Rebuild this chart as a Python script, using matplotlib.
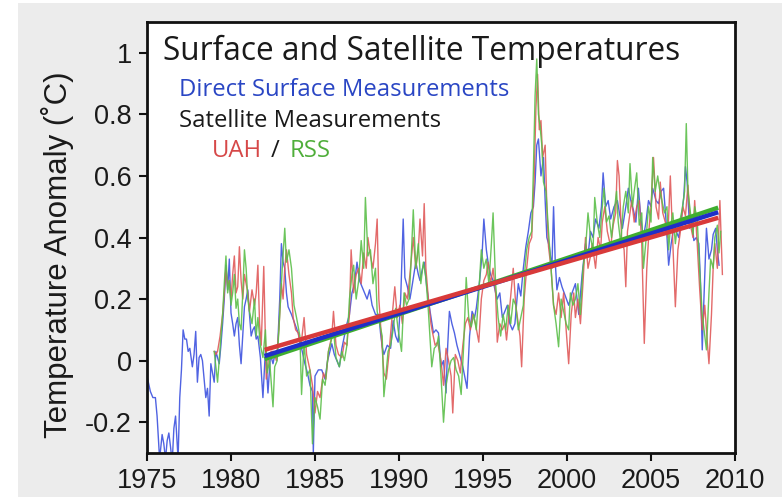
import matplotlib
matplotlib.use("Agg")
import matplotlib.pyplot as plt
from matplotlib.patches import Rectangle
import numpy as np

# ---------------- data ----------------
surface_years = [
 1975.00,1975.08,1975.2,1975.35,1975.5,1975.6,1975.75,1975.9,1976.0,1976.1,1976.2,1976.3,1976.4,1976.5,1976.6,1976.7,1976.85,1976.95,
 1977.05,1977.15,1977.25,1977.35,1977.45,1977.55,1977.7,1977.8,1977.9,1978.0,1978.1,1978.2,1978.3,1978.4,1978.5,1978.6,1978.7,1978.8,1978.9,
 1979.0,1979.1,1979.2,1979.3,1979.4,1979.5,1979.6,1979.7,1979.8,1979.9,1980.0,1980.1,1980.2,1980.3,1980.4,1980.5,1980.6,1980.7,1980.8,1980.9,
 1981.0,1981.1,1981.2,1981.3,1981.4,1981.5,1981.6,1981.75,1981.9,1982.05,1982.2,1982.35,1982.5,1982.65,1982.75,1982.9,
 1983.0,1983.1,1983.2,1983.3,1983.4,1983.6,1983.8,1984.0,1984.2,1984.4,1984.55,1984.7,1984.85,1984.9,1985.0,1985.2,1985.4,1985.6,1985.75,
 1986.0,1986.15,1986.3,1986.45,1986.6,1986.75,1986.9,1987.05,1987.2,1987.35,1987.5,1987.65,1987.8,1987.95,1988.1,1988.25,1988.4,1988.6,1988.8,1988.9,
 1989.0,1989.1,1989.3,1989.5,1989.65,1989.8,1989.95,1990.1,1990.25,1990.35,1990.5,1990.65,1990.8,1991.0,1991.15,1991.25,1991.4,1991.5,1991.65,1991.85,
 1992.05,1992.2,1992.35,1992.5,1992.65,1992.8,1992.9,1993.0,1993.15,1993.3,1993.45,1993.6,1993.8,1994.05,1994.2,1994.35,1994.5,1994.6,1994.8,1994.95,
 1995.05,1995.2,1995.3,1995.45,1995.6,1995.75,1995.85,1996.0,1996.15,1996.3,1996.45,1996.6,1996.75,1996.9,1997.1,1997.25,1997.4,1997.55,1997.7,1997.85,
 1998.0,1998.1,1998.2,1998.3,1998.45,1998.6,1998.7,1998.8,1998.95,1999.1,1999.2,1999.3,1999.4,1999.55,1999.7,1999.9,2000.1,2000.3,2000.5,2000.7,2000.9,
 2001.1,2001.25,2001.4,2001.55,2001.7,2001.9,2002.05,2002.15,2002.3,2002.45,2002.6,2002.8,2003.0,2003.15,2003.3,2003.5,2003.65,2003.8,2003.95,
 2004.1,2004.25,2004.4,2004.55,2004.7,2004.85,2005.0,2005.1,2005.3,2005.45,2005.6,2005.75,2005.9,2006.05,2006.2,2006.35,2006.5,2006.65,2006.8,2006.95,
 2007.05,2007.15,2007.3,2007.45,2007.55,2007.7,2007.85,2007.95,2008.05,2008.15,2008.3,2008.45,2008.6,2008.7,2008.85,2008.95,2009.05]
surface_values = [
 -0.05,-0.07,-0.10,-0.12,-0.12,-0.18,-0.32,-0.24,-0.27,-0.32,-0.26,-0.235,-0.28,-0.33,-0.22,-0.18,-0.32,-0.12,
 -0.03,0.10,0.07,0.07,0.03,0.04,-0.02,0.02,0.095,-0.07,0.01,0.02,0.00,-0.06,-0.12,-0.09,-0.18,-0.01,-0.04,
 -0.07,0.03,0.01,-0.01,0.05,0.12,0.20,0.31,0.23,0.33,0.155,0.12,0.08,0.12,0.14,0.05,-0.01,0.08,0.175,0.20,
 0.23,0.15,0.08,0.10,0.11,0.07,0.08,0.01,-0.12,0.035,-0.105,0.02,-0.01,0.03,0.01,0.20,
 0.38,0.32,0.30,0.22,0.175,0.15,0.12,0.09,0.04,-0.01,-0.04,-0.08,-0.10,-0.30,-0.05,-0.03,-0.03,-0.06,0.00,
 0.055,0.02,0.00,-0.02,0.04,0.08,0.12,0.15,0.22,0.25,0.32,0.26,0.24,0.22,0.20,0.23,0.18,0.15,0.15,0.09,
 0.045,0.02,0.05,0.04,0.13,0.08,0.06,0.20,0.46,0.27,0.24,0.20,0.25,0.32,0.28,0.26,0.30,0.32,0.24,0.16,
 0.09,0.10,0.09,-0.02,0.00,-0.105,0.05,0.16,0.12,0.09,0.05,0.02,-0.02,-0.09,0.08,0.16,0.14,0.17,0.26,0.35,
 0.46,0.36,0.32,0.28,0.26,0.22,0.20,0.22,0.14,0.16,0.18,0.12,0.10,0.12,0.25,0.21,0.30,0.37,0.42,0.48,
 0.50,0.58,0.70,0.72,0.60,0.66,0.52,0.40,0.37,0.30,0.50,0.32,0.23,0.27,0.24,0.21,0.18,0.22,0.25,0.15,0.28,
 0.38,0.34,0.42,0.40,0.46,0.43,0.50,0.61,0.50,0.52,0.46,0.50,0.52,0.47,0.43,0.50,0.56,0.52,0.49,
 0.45,0.56,0.46,0.40,0.45,0.52,0.50,0.56,0.52,0.51,0.55,0.56,0.45,0.31,0.38,0.43,0.42,0.40,0.46,0.53,
 0.63,0.58,0.43,0.45,0.39,0.40,0.38,0.25,0.035,0.20,0.43,0.33,0.36,0.41,0.43,0.36,0.31]

uah_years = [
 1979.0,1979.1,1979.2,1979.35,1979.5,1979.6,1979.7,1979.8,1979.9,1980.0,1980.1,1980.2,1980.3,1980.4,1980.5,1980.6,1980.7,1980.8,1980.9,
 1981.0,1981.1,1981.25,1981.4,1981.5,1981.6,1981.7,1981.8,1981.95,1982.1,1982.25,1982.4,1982.55,1982.7,1982.85,
 1983.0,1983.1,1983.2,1983.3,1983.45,1983.6,1983.7,1983.85,1984.0,1984.15,1984.35,1984.5,1984.7,1984.85,1985.0,1985.15,1985.3,1985.5,1985.65,1985.8,
 1986.0,1986.1,1986.25,1986.4,1986.6,1986.75,1986.9,1987.05,1987.15,1987.3,1987.45,1987.6,1987.75,1987.9,1988.05,1988.15,1988.3,1988.45,1988.6,1988.7,1988.8,1988.95,
 1989.1,1989.25,1989.4,1989.55,1989.75,1989.9,1990.05,1990.2,1990.35,1990.5,1990.65,1990.85,1991.0,1991.15,1991.25,1991.4,1991.5,1991.6,1991.75,1991.9,
 1992.0,1992.15,1992.3,1992.5,1992.65,1992.8,1992.95,1993.1,1993.2,1993.35,1993.5,1993.65,1993.8,1993.95,1994.1,1994.25,1994.4,1994.55,1994.75,1994.9,
 1995.05,1995.2,1995.3,1995.45,1995.6,1995.75,1995.85,1996.0,1996.15,1996.3,1996.4,1996.55,1996.7,1996.8,1996.95,1997.1,1997.2,1997.3,1997.45,1997.6,1997.75,1997.9,
 1998.05,1998.15,1998.25,1998.35,1998.45,1998.55,1998.7,1998.8,1998.9,1999.05,1999.2,1999.35,1999.5,1999.65,1999.8,1999.95,
 2000.1,2000.25,2000.4,2000.5,2000.65,2000.8,2000.95,2001.1,2001.25,2001.4,2001.5,2001.7,2001.85,2002.0,2002.1,2002.25,2002.4,2002.6,2002.75,2002.9,
 2003.0,2003.1,2003.25,2003.4,2003.5,2003.6,2003.75,2003.85,2004.0,2004.15,2004.3,2004.45,2004.6,2004.75,2004.9,
 2005.0,2005.15,2005.3,2005.45,2005.55,2005.7,2005.85,2006.0,2006.15,2006.3,2006.45,2006.6,2006.75,2006.9,
 2007.05,2007.2,2007.35,2007.5,2007.6,2007.75,2007.9,2008.05,2008.2,2008.35,2008.45,2008.6,2008.7,2008.8,2008.95,2009.1,2009.25]
uah_values = [
 0.03,0.02,0.03,0.08,0.15,0.22,0.30,0.24,0.26,0.20,0.28,0.34,0.22,0.24,0.37,0.26,0.20,0.28,0.25,
 0.22,0.16,0.23,0.18,0.22,0.31,0.12,0.05,0.306,-0.06,0.02,0.03,0.03,0.00,0.10,
 0.25,0.20,0.30,0.36,0.28,0.22,0.14,0.10,0.09,0.04,0.14,0.02,-0.03,-0.08,-0.17,-0.10,-0.12,-0.04,-0.06,0.03,
 0.08,0.16,0.05,0.02,0.01,0.06,0.05,0.15,0.36,0.22,0.28,0.30,0.25,0.35,0.30,0.40,0.34,0.30,0.38,0.46,0.20,0.08,
 -0.04,-0.06,0.02,0.12,0.24,0.14,0.18,0.12,0.22,0.20,0.28,0.40,0.30,0.36,0.46,0.34,0.51,0.30,0.20,0.12,
 0.09,0.05,0.06,0.00,-0.08,0.04,0.00,-0.05,-0.17,0.02,0.00,-0.04,0.05,0.12,0.14,0.10,0.15,0.12,0.06,0.20,
 0.26,0.28,0.32,0.25,0.30,0.22,0.06,0.12,0.10,0.12,0.067,0.15,0.24,0.30,0.18,0.12,0.08,-0.02,0.20,0.30,0.38,0.40,
 0.60,0.82,0.93,0.75,0.78,0.66,0.70,0.50,0.37,0.30,0.18,0.15,0.22,0.14,0.22,0.10,
 -0.01,0.15,0.22,0.14,0.20,0.12,0.25,0.40,0.30,0.34,0.38,0.30,0.40,0.36,0.45,0.50,0.42,0.37,0.44,0.48,
 0.65,0.60,0.40,0.36,0.24,0.42,0.48,0.52,0.45,0.50,0.52,0.38,0.056,0.30,0.44,
 0.50,0.66,0.50,0.46,0.58,0.48,0.45,0.40,0.60,0.38,0.175,0.36,0.42,0.50,
 0.47,0.57,0.44,0.40,0.52,0.38,0.23,0.10,0.18,0.06,-0.01,0.15,0.30,0.38,0.30,0.52,0.28]

rss_years = [
 1979.0,1979.1,1979.2,1979.35,1979.5,1979.6,1979.7,1979.8,1979.9,1980.0,1980.1,1980.2,1980.3,1980.4,1980.5,1980.6,1980.7,1980.8,1980.9,
 1981.0,1981.1,1981.25,1981.4,1981.5,1981.6,1981.75,1981.9,1982.05,1982.15,1982.3,1982.5,1982.6,1982.75,1982.9,
 1983.05,1983.2,1983.3,1983.45,1983.6,1983.75,1983.9,1984.1,1984.2,1984.35,1984.5,1984.7,1984.85,1985.0,1985.15,1985.3,1985.45,1985.6,1985.8,1985.95,
 1986.1,1986.25,1986.45,1986.6,1986.75,1986.9,1987.05,1987.2,1987.3,1987.45,1987.6,1987.75,1987.9,1988.0,1988.15,1988.3,1988.45,1988.6,1988.7,1988.85,
 1989.0,1989.1,1989.2,1989.35,1989.5,1989.65,1989.8,1989.95,1990.15,1990.3,1990.45,1990.6,1990.7,1990.85,1991.0,1991.15,1991.3,1991.45,1991.6,1991.75,1991.95,
 1992.1,1992.25,1992.35,1992.5,1992.65,1992.8,1992.95,1993.1,1993.25,1993.4,1993.55,1993.7,1993.85,1994.0,1994.15,1994.3,1994.45,1994.6,1994.75,1994.9,
 1995.05,1995.2,1995.35,1995.5,1995.6,1995.75,1995.9,1996.05,1996.2,1996.35,1996.5,1996.65,1996.8,1996.95,1997.1,1997.25,1997.4,1997.5,1997.6,1997.75,1997.9,
 1998.0,1998.1,1998.2,1998.3,1998.4,1998.5,1998.6,1998.75,1998.9,1999.05,1999.2,1999.35,1999.5,1999.65,1999.8,1999.95,
 2000.1,2000.2,2000.35,2000.5,2000.65,2000.8,2000.95,2001.1,2001.25,2001.4,2001.55,2001.65,2001.8,2001.95,2002.1,2002.2,2002.35,2002.5,2002.65,2002.8,2002.95,
 2003.05,2003.2,2003.35,2003.5,2003.65,2003.75,2003.9,2004.0,2004.15,2004.3,2004.45,2004.55,2004.7,2004.85,
 2005.0,2005.1,2005.25,2005.4,2005.5,2005.65,2005.8,2005.95,2006.05,2006.15,2006.3,2006.45,2006.55,2006.7,2006.85,
 2007.0,2007.1,2007.2,2007.35,2007.5,2007.6,2007.75,2007.9,2008.05,2008.2,2008.3,2008.45,2008.55,2008.7,2008.8,2008.95,2009.05,2009.15]
rss_values = [
 0.03,-0.02,-0.07,0.04,0.15,0.25,0.34,0.22,0.26,0.18,0.22,0.28,0.17,0.20,0.12,0.10,0.22,0.36,0.30,
 0.20,0.16,0.12,0.20,0.08,0.14,0.05,0.01,0.10,-0.04,0.00,-0.15,-0.02,0.00,0.15,
 0.30,0.43,0.32,0.36,0.30,0.18,0.14,0.08,-0.11,0.06,-0.05,-0.03,-0.27,-0.12,-0.15,-0.19,-0.06,-0.08,0.03,0.06,
 0.10,0.01,-0.02,0.03,0.00,0.05,0.20,0.28,0.31,0.20,0.26,0.39,0.30,0.53,0.34,0.36,0.25,0.30,0.16,0.12,
 0.08,-0.117,-0.06,0.03,0.05,0.10,0.17,0.10,0.03,0.22,0.18,0.20,0.30,0.49,0.30,0.38,0.25,0.32,0.27,0.16,-0.02,
 0.04,0.05,0.08,-0.05,-0.20,-0.08,-0.03,0.00,0.01,-0.03,-0.05,-0.11,0.05,0.27,0.14,0.11,0.15,0.10,0.22,0.36,
 0.30,0.33,0.25,0.38,0.48,0.25,0.14,0.08,0.15,0.10,0.18,0.12,0.20,0.18,0.10,0.14,0.18,0.30,0.36,0.40,0.42,
 0.62,0.86,0.98,0.80,0.76,0.70,0.58,0.55,0.42,0.30,0.18,0.12,0.045,0.20,0.16,0.12,
 0.10,0.22,0.18,0.20,0.25,0.15,0.30,0.36,0.48,0.40,0.36,0.53,0.45,0.40,0.50,0.56,0.45,0.47,0.40,0.48,0.55,
 0.45,0.38,0.50,0.55,0.48,0.64,0.50,0.55,0.61,0.44,0.48,0.30,0.39,0.50,
 0.45,0.66,0.55,0.60,0.56,0.52,0.48,0.50,0.36,0.43,0.48,0.38,0.43,0.45,0.49,
 0.55,0.77,0.55,0.48,0.41,0.50,0.46,0.29,0.15,0.08,0.035,0.22,0.33,0.30,0.40,0.44,0.35,0.42]

# linear trends (1982-2009), end values
trend_years = [1982.0, 2009.0]
trend_uah = [0.035, 0.464]
trend_surface = [0.015, 0.482]
trend_rss = [0.005, 0.497]

x_ticks = [1975, 1980, 1985, 1990, 1995, 2000, 2005, 2010]
y_ticks = [-0.2, 0, 0.2, 0.4, 0.6, 0.8, 1]
y_tick_labels = ["-0.2", "0", "0.2", "0.4", "0.6", "0.8", "1"]

# ---------------- drawing ----------------
W, H = 782, 500
fig = plt.figure(figsize=(W / 100, H / 100), dpi=100, facecolor="white")
fig.patches.append(Rectangle((18 / W, 3 / H), 1 - 18 / W, 494 / H,
                             transform=fig.transFigure, facecolor="#ececec",
                             edgecolor="none", zorder=-10))

ax = fig.add_axes([147 / W, 1 - 453 / H, (735 - 147) / W, (453 - 22) / H])
ax.set_zorder(1)
ax.set_facecolor("white")

c_blue, c_red, c_green = "#5063e2", "#e05a5a", "#5cbf4a"
ax.plot(surface_years, surface_values, color=c_blue, lw=1.0, zorder=2)
ax.plot(uah_years, uah_values, color=c_red, lw=1.0, alpha=0.9, zorder=3)
ax.plot(rss_years, rss_values, color=c_green, lw=1.0, alpha=0.9, zorder=4)

ax.plot(trend_years, trend_rss, color="#3fae2f", lw=3.2, solid_capstyle="butt", zorder=5)
ax.plot(trend_years, trend_surface, color="#1f2fc8", lw=3.2, solid_capstyle="butt", zorder=6)
ax.plot(trend_years, trend_uah, color="#d83a3a", lw=3.2, solid_capstyle="butt", zorder=7)

ax.set_xlim(1975, 2010)
ax.set_ylim(-0.3, 1.1)
ax.set_xticks(x_ticks)
ax.set_yticks(y_ticks)
ax.set_yticklabels(y_tick_labels)

for lab in ax.get_xticklabels() + ax.get_yticklabels():
    lab.set_fontfamily(["Liberation Sans", "DejaVu Sans"])
    lab.set_fontsize(19.5)
    lab.set_color("#1a1a1a")
ax.tick_params(axis="both", direction="out", length=5.8, width=1.5, color="#111111")
ax.tick_params(axis="x", pad=5)
ax.tick_params(axis="y", pad=5)
for s in ax.spines.values():
    s.set_linewidth(2.0)
    s.set_color("#111111")

fig.text(57 / W, 1 - 255 / H, "Temperature Anomaly (˚C)", rotation=90,
         ha="center", va="center", fontsize=22.5,
         family=["Liberation Sans", "DejaVu Sans"], color="#1a1a1a")

hum = ["Open Sans", "DejaVu Sans"]
def px2ax(x, y):
    return ((x - 147) / (735 - 147), (453 - y) / (453 - 22))

ax.text(*px2ax(163, 51), "Surface and Satellite Temperatures", transform=ax.transAxes,
        ha="left", va="center", fontsize=22.8, family=hum, color="#1a1a1a", zorder=10)
ax.text(*px2ax(179, 90), "Direct Surface Measurements", transform=ax.transAxes,
        ha="left", va="center", fontsize=17.2, family=hum, color="#2a46c4", zorder=10)
ax.text(*px2ax(179, 121), "Satellite Measurements", transform=ax.transAxes,
        ha="left", va="center", fontsize=17.2, family=hum, color="#1a1a1a", zorder=10)
ax.text(*px2ax(212, 151), "UAH", transform=ax.transAxes,
        ha="left", va="center", fontsize=17.2, family=hum, color="#d64848", zorder=10)
ax.text(*px2ax(275, 151), "/", transform=ax.transAxes,
        ha="center", va="center", fontsize=17.2, family=hum, color="#1a1a1a", zorder=10)
ax.text(*px2ax(290, 151), "RSS", transform=ax.transAxes,
        ha="left", va="center", fontsize=17.2, family=hum, color="#4fae3a", zorder=10)

fig.savefig("out.png", dpi=100, facecolor=fig.get_facecolor())
